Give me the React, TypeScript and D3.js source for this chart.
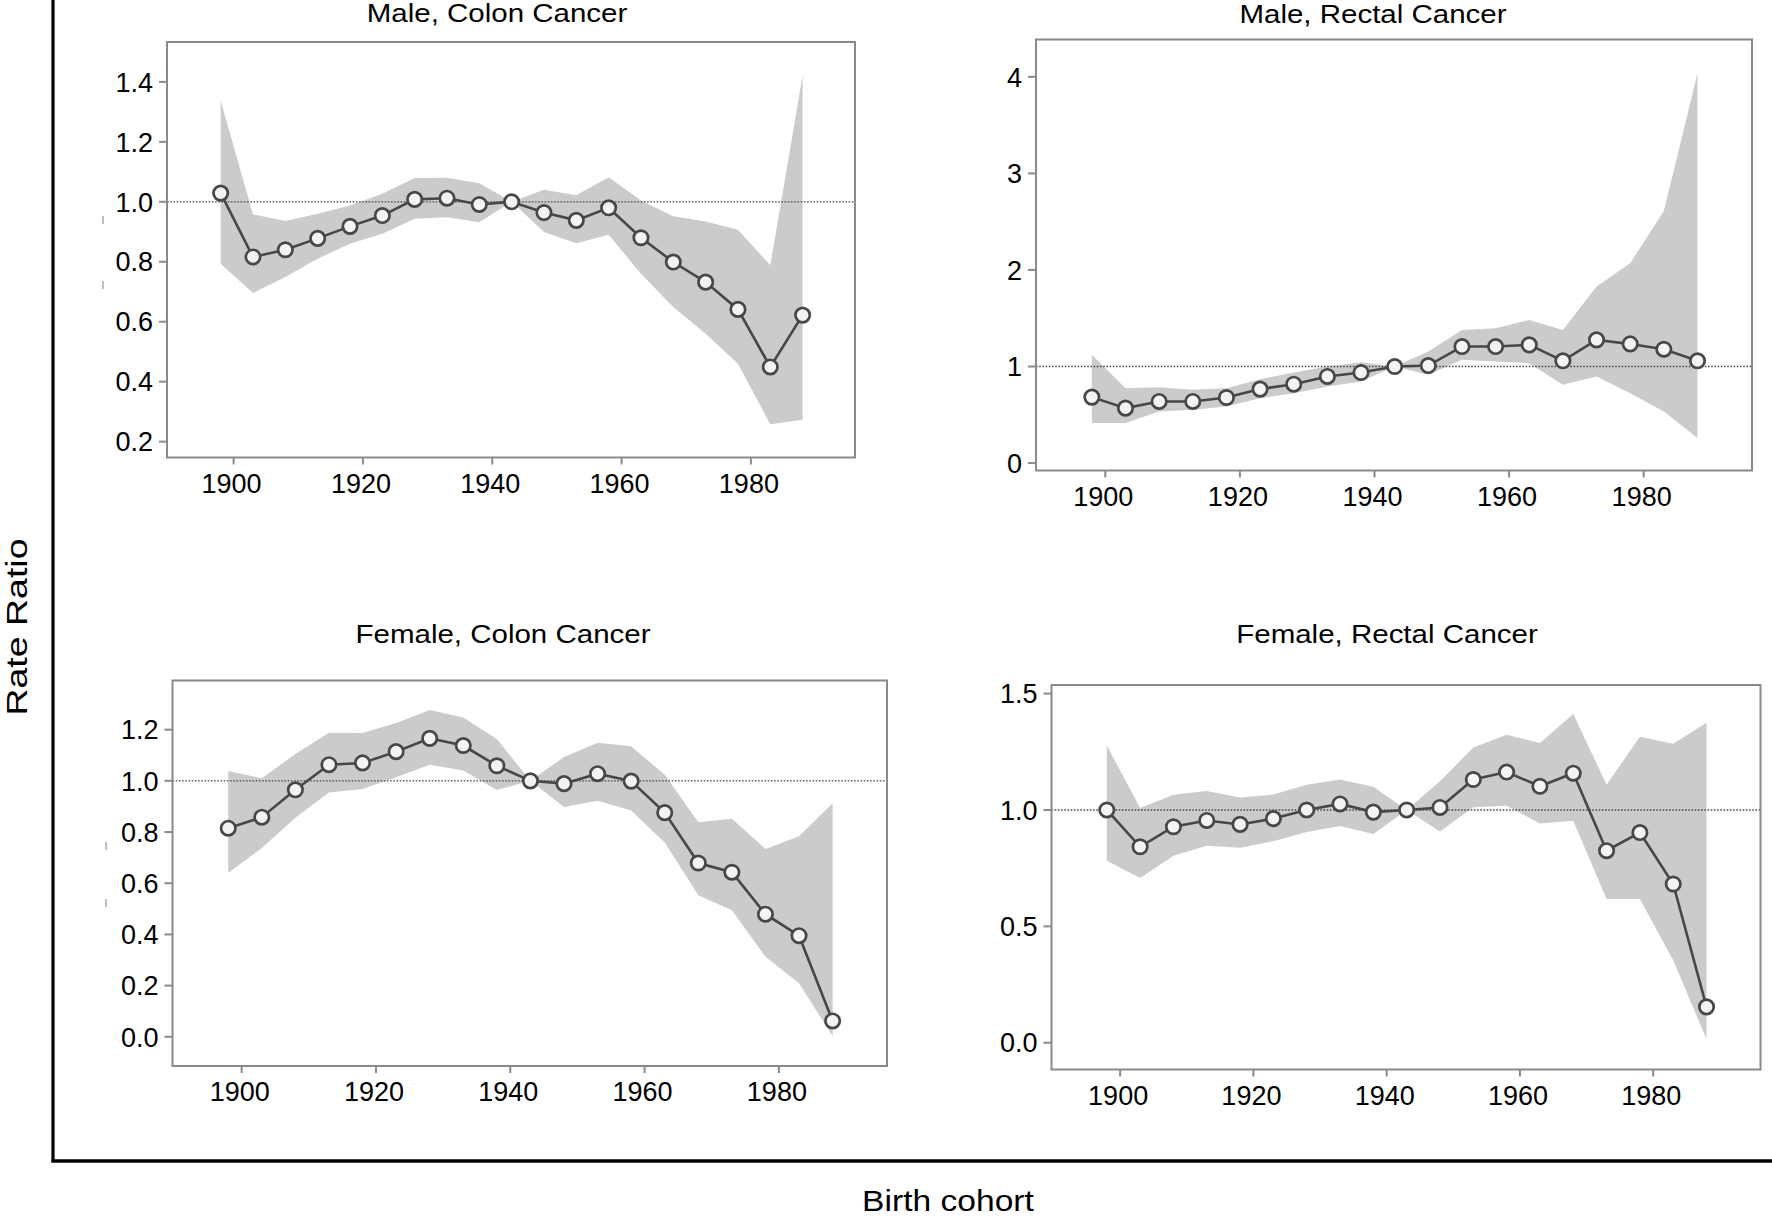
import React from "react";
import * as d3 from "d3";

// ---------- data ----------
const years = [1898, 1903, 1908, 1913, 1918, 1923, 1928, 1933, 1938, 1943, 1948, 1953, 1958, 1963, 1968, 1973, 1978, 1983, 1988];

const maleColonRR = [1.029, 0.816, 0.84, 0.878, 0.918, 0.954, 1.008, 1.012, 0.991, 1.0, 0.964, 0.938, 0.98, 0.88, 0.799, 0.732, 0.641, 0.449, 0.622];
const maleColonHi = [1.338, 0.958, 0.936, 0.96, 0.988, 1.027, 1.079, 1.08, 1.062, 1.0, 1.04, 1.022, 1.082, 1.004, 0.952, 0.934, 0.907, 0.788, 1.421];
const maleColonLo = [0.793, 0.696, 0.749, 0.81, 0.86, 0.893, 0.943, 0.948, 0.932, 1.0, 0.899, 0.862, 0.89, 0.76, 0.649, 0.56, 0.46, 0.258, 0.273];

const maleRectalRR = [0.683, 0.569, 0.638, 0.638, 0.679, 0.766, 0.817, 0.897, 0.938, 1.0, 1.01, 1.207, 1.207, 1.224, 1.059, 1.276, 1.234, 1.179, 1.059];
const maleRectalHi = [1.121, 0.776, 0.786, 0.759, 0.776, 0.869, 0.938, 1.0, 1.045, 1.0, 1.155, 1.379, 1.397, 1.483, 1.379, 1.828, 2.069, 2.61, 4.034];
const maleRectalLo = [0.414, 0.414, 0.534, 0.552, 0.586, 0.672, 0.724, 0.793, 0.845, 1.0, 0.914, 1.069, 1.052, 1.034, 0.81, 0.897, 0.724, 0.534, 0.259];

const femaleColonRR = [0.815, 0.858, 0.965, 1.063, 1.07, 1.114, 1.166, 1.138, 1.059, 1.0, 0.989, 1.028, 0.999, 0.876, 0.679, 0.643, 0.479, 0.395, 0.062];
const femaleColonHi = [1.038, 1.01, 1.105, 1.188, 1.187, 1.226, 1.277, 1.247, 1.163, 1.0, 1.093, 1.149, 1.135, 1.024, 0.838, 0.852, 0.734, 0.784, 0.912];
const femaleColonLo = [0.64, 0.738, 0.856, 0.954, 0.968, 1.014, 1.063, 1.04, 0.964, 1.0, 0.898, 0.922, 0.884, 0.759, 0.553, 0.494, 0.313, 0.209, 0.003];

const femaleRectalRR = [1.0, 0.842, 0.928, 0.955, 0.938, 0.963, 1.0, 1.026, 0.991, 1.0, 1.011, 1.131, 1.163, 1.102, 1.158, 0.825, 0.903, 0.682, 0.154];
const femaleRectalHi = [1.277, 1.008, 1.065, 1.082, 1.054, 1.066, 1.108, 1.131, 1.1, 1.0, 1.123, 1.269, 1.323, 1.288, 1.412, 1.108, 1.315, 1.285, 1.375];
const femaleRectalLo = [0.782, 0.708, 0.803, 0.846, 0.838, 0.866, 0.905, 0.931, 0.897, 1.0, 0.908, 1.012, 1.018, 0.942, 0.954, 0.618, 0.618, 0.354, 0.015];

const xTicks = [1900, 1920, 1940, 1960, 1980];
const xDomain: [number, number] = [1889.7, 1996.1];

const panelTitles = ["Male, Colon Cancer", "Male, Rectal Cancer", "Female, Colon Cancer", "Female, Rectal Cancer"];
const yTicksMC = [0.2, 0.4, 0.6, 0.8, 1.0, 1.2, 1.4];
const yTicksMR = [0, 1, 2, 3, 4];
const yTicksFC = [0.0, 0.2, 0.4, 0.6, 0.8, 1.0, 1.2];
const yTicksFR = [0.0, 0.5, 1.0, 1.5];

// ---------- layout ----------
const FONT = "'Liberation Sans', Arial, Helvetica, sans-serif";

const panels = [
  { title: panelTitles[0], rr: maleColonRR, hi: maleColonHi, lo: maleColonLo, yDomain: [0.147, 1.533], yTicks: yTicksMC, fmt: ".1f",
    box: { x0: 167, x1: 855, y0: 42, y1: 457.5 }, titleX: 497, titleY: 22, marks: [220, 285], markX: 103 },
  { title: panelTitles[1], rr: maleRectalRR, hi: maleRectalHi, lo: maleRectalLo, yDomain: [-0.077, 4.387], yTicks: yTicksMR, fmt: "d",
    box: { x0: 1036, x1: 1752, y0: 39.5, y1: 470.5 }, titleX: 1373, titleY: 23, marks: [], markX: 0 },
  { title: panelTitles[2], rr: femaleColonRR, hi: femaleColonHi, lo: femaleColonLo, yDomain: [-0.114, 1.392], yTicks: yTicksFC, fmt: ".1f",
    box: { x0: 172.5, x1: 887, y0: 680.5, y1: 1066 }, titleX: 503, titleY: 643, marks: [846, 903], markX: 106 },
  { title: panelTitles[3], rr: femaleRectalRR, hi: femaleRectalHi, lo: femaleRectalLo, yDomain: [-0.115, 1.537], yTicks: yTicksFR, fmt: ".1f",
    box: { x0: 1051.5, x1: 1760.5, y0: 685, y1: 1069.5 }, titleX: 1387, titleY: 643, marks: [], markX: 0 },
];

function Panel({ p }: { p: (typeof panels)[number] }) {
  const { box } = p;
  const x = d3.scaleLinear().domain(xDomain).range([box.x0, box.x1]);
  const y = d3.scaleLinear().domain(p.yDomain).range([box.y1, box.y0]);
  const fmt = d3.format(p.fmt);
  const rows = years.map((yr, i) => ({ yr, rr: p.rr[i], hi: p.hi[i], lo: p.lo[i] }));
  const area = d3
    .area<(typeof rows)[number]>()
    .x((d) => x(d.yr))
    .y0((d) => y(d.lo))
    .y1((d) => y(d.hi));
  const line = d3
    .line<(typeof rows)[number]>()
    .x((d) => x(d.yr))
    .y((d) => y(d.rr));
  const axisColor = "#8a8a8a";
  return (
    <g>
      <text
        transform={`translate(${p.titleX},${p.titleY}) scale(1.18,1)`}
        textAnchor="middle"
        fontFamily={FONT}
        fontSize={25}
        fill="#000"
      >
        {p.title}
      </text>
      <path d={area(rows) || ""} fill="#cbcbcb" stroke="none" />
      <line x1={box.x0} x2={box.x1} y1={y(1)} y2={y(1)} stroke="#4a4a4a" strokeWidth={1.3} strokeDasharray="1.6,1.6" />
      <path d={line(rows) || ""} fill="none" stroke="#474747" strokeWidth={2.6} />
      {rows.map((d, i) => (
        <circle key={i} cx={x(d.yr)} cy={y(d.rr)} r={7.2} fill="#f3f3f3" stroke="#474747" strokeWidth={2.7} />
      ))}
      <rect x={box.x0} y={box.y0} width={box.x1 - box.x0} height={box.y1 - box.y0} fill="none" stroke={axisColor} strokeWidth={2} />
      {p.yTicks.map((t) => (
        <g key={"y" + t}>
          <line x1={box.x0 - 8} x2={box.x0} y1={y(t)} y2={y(t)} stroke={axisColor} strokeWidth={2} />
          <text x={box.x0 - 14} y={y(t)} dy="0.36em" textAnchor="end" fontFamily={FONT} fontSize={27} fill="#000">
            {fmt(t)}
          </text>
        </g>
      ))}
      {xTicks.map((t) => (
        <g key={"x" + t}>
          <line x1={x(t)} x2={x(t)} y1={box.y1} y2={box.y1 + 7} stroke={axisColor} strokeWidth={2} />
          <text x={x(t) - 2} y={box.y1 + 35} textAnchor="middle" fontFamily={FONT} fontSize={27} fill="#000">
            {t}
          </text>
        </g>
      ))}
      {p.marks.map((m, i) => (
        <line key={"m" + i} x1={p.markX} x2={p.markX} y1={m - 4} y2={m + 4} stroke="#aaa" strokeWidth={1.5} />
      ))}
    </g>
  );
}

export default function App() {
  return (
    <svg width={1772} height={1220} style={{ position: "absolute", left: 0, top: 0, background: "#fff" }}>
      <rect x={0} y={0} width={1772} height={1220} fill="#fff" />
      {panels.map((p, i) => (
        <Panel key={i} p={p} />
      ))}
      <line x1={53} x2={53} y1={0} y2={1162} stroke="#000" strokeWidth={3.2} />
      <line x1={51.5} x2={1772} y1={1161} y2={1161} stroke="#000" strokeWidth={3.5} />
      <text
        transform="translate(27,627) rotate(-90) scale(1.25,1)"
        textAnchor="middle"
        fontFamily={FONT}
        fontSize={30}
        fill="#000"
      >
        Rate Ratio
      </text>
      <text transform="translate(948,1211) scale(1.12,1)" textAnchor="middle" fontFamily={FONT} fontSize={30} fill="#000">
        Birth cohort
      </text>
    </svg>
  );
}
